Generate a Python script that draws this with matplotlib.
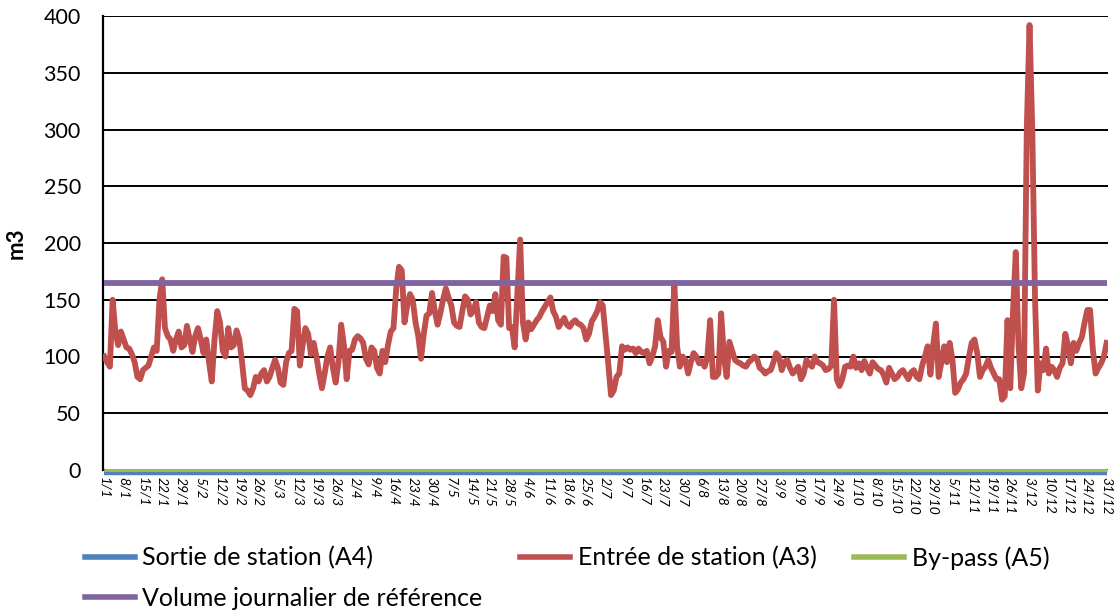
import matplotlib
matplotlib.use("Agg")
import matplotlib.pyplot as plt
import matplotlib.transforms as mtransforms
import pandas as pd

plt.rcParams['font.family'] = ['Lato', 'DejaVu Sans']

# ---------------- data ----------------
dates = pd.date_range("2013-01-01", "2013-12-31", freq="D")
day_labels = [f"{d.day}/{d.month}" for d in dates]
n_days = len(dates)

entree_a3 = [
    100, 95, 91, 150, 122, 110, 122, 115, 108, 107,
    102, 95, 82, 80, 88, 90, 92, 100, 108, 105,
    150, 168, 125, 118, 115, 105, 115, 122, 108, 110,
    127, 115, 104, 118, 125, 115, 103, 115, 95, 78,
    115, 140, 130, 105, 100, 125, 108, 110, 123, 115,
    95, 72, 70, 66, 72, 82, 78, 85, 88, 78,
    82, 90, 97, 90, 77, 75, 95, 103, 105, 142,
    140, 92, 110, 125, 120, 102, 112, 100, 85, 72,
    85, 100, 108, 90, 77, 95, 128, 110, 80, 105,
    106, 115, 118, 116, 112, 98, 93, 108, 105, 90,
    85, 105, 95, 110, 122, 125, 160, 179, 176, 130,
    145, 155, 150, 130, 118, 98, 120, 136, 138, 156,
    140, 128, 138, 150, 160, 152, 145, 130, 127, 126,
    140, 153, 150, 137, 140, 148, 130, 126, 125, 135,
    145, 140, 155, 132, 128, 188, 187, 125, 126, 108,
    155, 203, 130, 115, 130, 124, 128, 132, 135, 140,
    144, 148, 152, 140, 135, 126, 130, 134, 128, 126,
    130, 132, 129, 128, 125, 115, 120, 131, 135, 140,
    148, 145, 120, 94, 66, 70, 82, 85, 109, 106,
    108, 106, 107, 103, 107, 104, 103, 105, 94, 100,
    109, 132, 117, 113, 91, 105, 104, 165, 109, 91,
    100, 97, 85, 95, 103, 100, 94, 96, 91, 100,
    132, 82, 82, 85, 138, 100, 82, 113, 105, 97,
    95, 94, 92, 91, 95, 97, 100, 98, 90, 88,
    85, 87, 88, 95, 103, 100, 88, 95, 97, 90,
    85, 88, 91, 80, 85, 97, 93, 91, 100, 95,
    94, 92, 88, 89, 92, 150, 80, 74, 80, 91,
    92, 91, 100, 90, 94, 88, 96, 90, 85, 95,
    92, 89, 88, 84, 77, 90, 85, 80, 82, 86,
    88, 84, 80, 86, 88, 82, 80, 92, 100, 109,
    84, 110, 129, 82, 95, 109, 95, 112, 97, 68,
    71, 77, 80, 85, 100, 112, 115, 103, 82, 88,
    91, 97, 90, 85, 80, 80, 62, 65, 132, 72,
    140, 192, 110, 72, 85, 300, 392, 300, 150, 70,
    94, 88, 107, 85, 91, 88, 82, 90, 94, 120,
    109, 94, 112, 105, 112, 117, 130, 141, 141, 106,
    85, 90, 94, 100, 112,
]
sortie_a4 = [0] * n_days
bypass_a5 = [0] * n_days
volume_reference = [165] * n_days

series_names = ["Sortie de station (A4)", "Entrée de station (A3)",
                "By-pass (A5)", "Volume journalier de référence"]
colors = ["#4F81BD", "#C0504D", "#9BBB59", "#8064A2"]

# ---------------- figure ----------------
W, H = 1115, 610
fig = plt.figure(figsize=(W / 100, H / 100), dpi=100)
ax = fig.add_axes([103 / W, 1 - 470 / H, (1108 - 103) / W, (470 - 16) / H])

x = list(range(n_days))
offset_down = mtransforms.offset_copy(ax.transData, fig=fig, x=0, y=-3, units='dots')
l_a4, = ax.plot(x, sortie_a4, color=colors[0], lw=3.2, transform=offset_down,
                clip_on=False, zorder=3, solid_capstyle='butt')
l_a3, = ax.plot(x, entree_a3, color=colors[1], lw=4.2, zorder=4,
                solid_joinstyle='round')
l_a5, = ax.plot(x, bypass_a5, color=colors[2], lw=2.2, clip_on=False, zorder=5,
                solid_capstyle='butt')
l_vol, = ax.plot(x, volume_reference, color=colors[3], lw=4.2, zorder=6,
                 solid_capstyle='butt')

ax.set_xlim(-0.5, n_days - 0.5)
ax.set_ylim(0, 400)
ax.set_yticks(range(0, 401, 50))
ax.tick_params(axis='y', length=0, labelsize=15.5, pad=16)
ax.grid(axis='y', color='black', lw=1.4, zorder=1)
ax.set_axisbelow(True)

tick_pos = list(range(0, n_days, 7))
ax.set_xticks(tick_pos)
ax.set_xticklabels([day_labels[i] for i in tick_pos], rotation=-90,
                   fontsize=10, fontstyle='italic', va='top', ha='center')
ax.tick_params(axis='x', length=0, pad=5)

for s in ['top', 'right']:
    ax.spines[s].set_visible(False)
ax.spines['left'].set_linewidth(1.6)
ax.spines['left'].set_color('black')
ax.spines['bottom'].set_visible(False)

ax.set_ylabel("m3", fontsize=16, fontweight='bold', labelpad=12)

handles = [l_a4, l_vol, l_a3, l_a5]
labels = [series_names[0], series_names[3], series_names[1], series_names[2]]
leg_handles = [plt.Line2D([], [], color=h.get_color(), lw=4) for h in handles]
fig.legend(leg_handles, labels, ncol=3, loc='upper left',
           bbox_to_anchor=(85 / W, 1 - 546 / H), frameon=False, fontsize=18,
           handlelength=2.0, handletextpad=0.3, columnspacing=1.5,
           labelspacing=0.7, borderpad=0, borderaxespad=0)

fig.savefig("out.png", dpi=100)
